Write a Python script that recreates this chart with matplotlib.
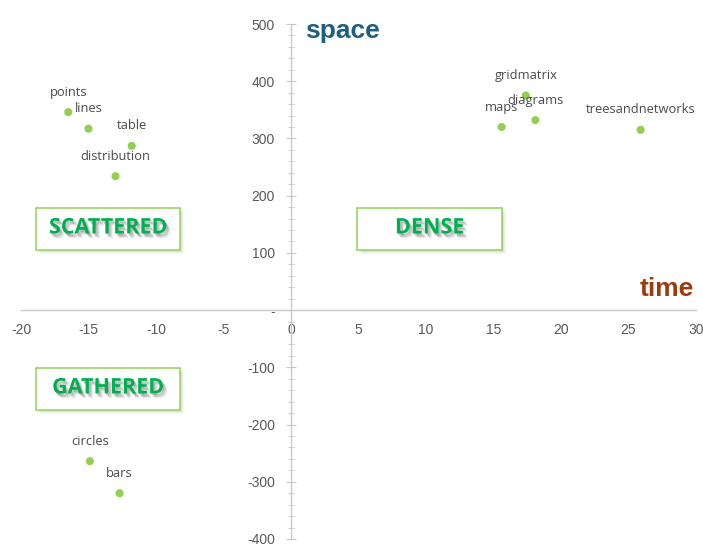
import matplotlib
matplotlib.use("Agg")
import matplotlib.pyplot as plt
import matplotlib.patheffects as pe
from matplotlib.patches import Rectangle
from matplotlib.ticker import FixedLocator, MultipleLocator, FuncFormatter

# Chart data
names = ["points", "lines", "table", "distribution", "circles", "bars",
         "maps", "gridmatrix", "diagrams", "treesandnetworks"]
time_vals = [-16.5, -15.0, -11.8, -13.0, -14.9, -12.7, 15.6, 17.4, 18.1, 25.9]
space_vals = [346, 317, 287, 234, -264, -320, 320, 375, 332, 315]

x_ticks = [-20, -15, -10, -5, 0, 5, 10, 15, 20, 25, 30]
y_ticks = [-400, -300, -200, -100, 0, 100, 200, 300, 400, 500]
quadrant_labels = ["SCATTERED", "DENSE", "GATHERED"]
x_title = "time"
y_title = "space"

W, H = 703, 545
fig = plt.figure(figsize=(W / 100, H / 100), dpi=100)
fig.patch.set_facecolor("white")


def fx(px):
    return px / W


def fy(py):
    return 1 - py / H


ax = fig.add_axes([fx(21), fy(539), (696 - 21) / W, (539 - 24) / H])
ax.set_xlim(x_ticks[0], x_ticks[-1])
ax.set_ylim(y_ticks[0], y_ticks[-1])

axis_col = "#C8C8C8"
label_col = "#595959"
for s in ["top", "right"]:
    ax.spines[s].set_visible(False)
ax.spines["left"].set_position(("data", 0))
ax.spines["bottom"].set_position(("data", 0))
for s in ["left", "bottom"]:
    ax.spines[s].set_color(axis_col)
    ax.spines[s].set_linewidth(1.0)

tick_family = ["Liberation Sans", "DejaVu Sans"]

ax.xaxis.set_major_locator(FixedLocator(x_ticks))
ax.xaxis.set_major_formatter(FuncFormatter(lambda v, p: f"{v:g}"))
ax.tick_params(axis="x", length=0, pad=9, labelcolor=label_col)

ax.yaxis.set_major_locator(FixedLocator(y_ticks))
ax.yaxis.set_minor_locator(MultipleLocator(20))
ax.yaxis.set_major_formatter(FuncFormatter(lambda v, p: "-" if v == 0 else f"{v:g}"))
ax.tick_params(axis="y", which="major", direction="inout", length=7,
               color=axis_col, pad=8, labelcolor=label_col)
ax.tick_params(axis="y", which="minor", direction="inout", length=4,
               color=axis_col)
for lab in ax.get_xticklabels() + ax.get_yticklabels():
    lab.set_fontfamily(tick_family)
    lab.set_fontsize(10)

ax.scatter(time_vals, space_vals, s=34, color="#92D050", zorder=3,
           edgecolors="none", clip_on=False)
for n, xv, yv in zip(names, time_vals, space_vals):
    ax.annotate(n, (xv, yv), xytext=(0, 20), textcoords="offset pixels",
                ha="center", va="center", fontsize=9.3, color="#4A4A4A",
                family=["Open Sans", "DejaVu Sans"], zorder=4)

# Axis titles
fig.text(fx(342), fy(31), y_title, ha="center", va="center", fontsize=19,
         fontweight="bold", color="#1F5F80", family=tick_family)
fig.text(fx(667), fy(289), x_title, ha="center", va="center", fontsize=19,
         fontweight="bold", color="#9C3B0C", family=tick_family)

# Quadrant callout boxes (pixel rectangles: left, top, right, bottom)
boxes = [(36, 208, 180, 250), (357, 208, 502, 250), (36, 368, 180, 410)]
for text, (l, t, r, b) in zip(quadrant_labels, boxes):
    # soft shadow behind the box
    for i, a in enumerate([0.06, 0.05, 0.04, 0.03]):
        d = 1 + i
        fig.patches.append(Rectangle((fx(l + d), fy(b + d)), (r - l) / W, (b - t) / H,
                                     transform=fig.transFigure, facecolor="#000000",
                                     edgecolor="none", alpha=a, zorder=1))
    fig.patches.append(Rectangle((fx(l), fy(b)), (r - l) / W, (b - t) / H,
                                 transform=fig.transFigure, facecolor="white",
                                 edgecolor="#9BD468", linewidth=1.2, zorder=2))
    fig.text(fx((l + r) / 2), fy((t + b) / 2 - 1), text, ha="center", va="center",
             fontsize=15.5, fontweight="bold", color="#00B050",
             family=["Open Sans", "DejaVu Sans"], zorder=3,
             path_effects=[
                 pe.SimplePatchShadow(offset=(3, -3.5), shadow_rgbFace="#000000", alpha=0.08),
                 pe.SimplePatchShadow(offset=(2, -2.5), shadow_rgbFace="#000000", alpha=0.14),
                 pe.SimplePatchShadow(offset=(1, -1.5), shadow_rgbFace="#000000", alpha=0.14),
                 pe.Normal()])

fig.savefig("out.png", dpi=100)
